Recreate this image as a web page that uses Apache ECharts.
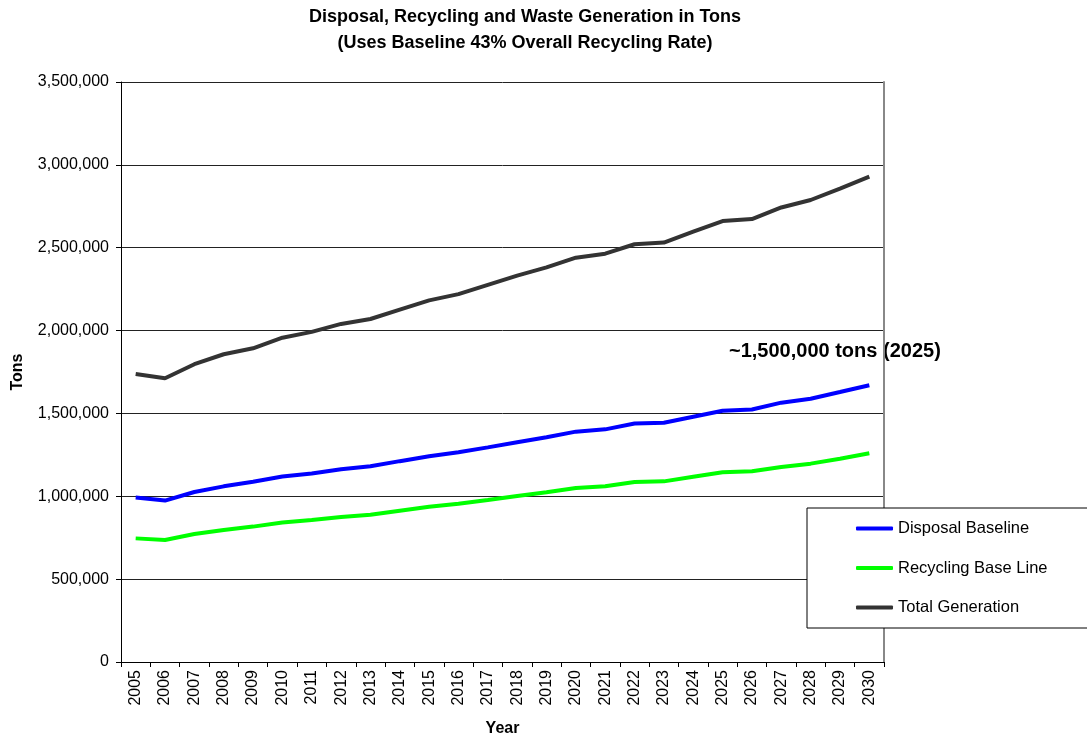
<!DOCTYPE html>
<html>
<head>
<meta charset="utf-8">
<script src="https://cdn.jsdelivr.net/npm/echarts@6/dist/echarts.min.js"></script>
<style>html,body{margin:0;padding:0;background:#fff;}#c{width:1087px;height:738px;}</style>
</head>
<body>
<div id="c"></div>
<script>
var years = ['2005','2006','2007','2008','2009','2010','2011','2012','2013','2014','2015','2016','2017','2018','2019','2020','2021','2022','2023','2024','2025','2026','2027','2028','2029','2030'];
var disposal = [992000,974000,1026000,1060000,1088000,1119000,1137000,1163000,1181000,1212000,1242000,1266000,1295000,1326000,1356000,1390000,1404000,1439000,1444000,1480000,1516000,1524000,1565000,1589000,1629000,1670000];
var recycling = [746000,736000,772000,797000,817000,842000,857000,875000,889000,913000,937000,955000,978000,1002000,1024000,1050000,1060000,1086000,1090000,1118000,1145000,1151000,1177000,1197000,1227000,1260000];
var total = [1738000,1712000,1797000,1857000,1893000,1957000,1992000,2040000,2070000,2126000,2182000,2220000,2276000,2332000,2381000,2440000,2464000,2521000,2531000,2597000,2661000,2673000,2743000,2788000,2857000,2929000];
var seriesNames = ['Disposal Baseline','Recycling Base Line','Total Generation'];
var titleLines = ['Disposal, Recycling and Waste Generation in Tons','(Uses Baseline 43% Overall Recycling Rate)'];
var annotation = '~1,500,000 tons (2025)';

var FONT = 'Liberation Sans, Arial, sans-serif';
var chart = echarts.init(document.getElementById('c'));
function fmt(v){ return String(v).replace(/\B(?=(\d{3})+(?!\d))/g, ','); }
chart.setOption({
  animation: false,
  backgroundColor: '#fff',
  title: {
    text: titleLines.join('\n'),
    left: 525, top: 4, textAlign: 'center', padding: 0,
    textStyle: {fontFamily: FONT, fontSize: 18, fontWeight: 'bold', color: '#000', lineHeight: 26}
  },
  grid: {left: 121, top: 82, width: 763, height: 580, show: false, containLabel: false, outerBoundsMode: 'none'},
  xAxis: {
    type: 'category', data: years, boundaryGap: true,
    name: 'Year', nameLocation: 'middle', nameGap: 59,
    nameTextStyle: {fontFamily: FONT, fontSize: 16, fontWeight: 'bold', color: '#000'},
    axisLine: {lineStyle: {color: '#000', width: 1}},
    axisTick: {show: true, length: 5, lineStyle: {color: '#000'}},
    axisLabel: {rotate: 90, fontFamily: FONT, fontSize: 16, color: '#000', margin: 8, interval: 0},
    splitLine: {show: false}
  },
  yAxis: [{
    type: 'value', min: 0, max: 3500000, interval: 500000,
    name: 'Tons', nameLocation: 'middle', nameGap: 95, nameRotate: 90,
    nameTextStyle: {fontFamily: FONT, fontSize: 16, fontWeight: 'bold', color: '#000'},
    axisLine: {show: true, lineStyle: {color: '#000', width: 1}},
    axisTick: {show: true, length: 5, lineStyle: {color: '#000'}},
    axisLabel: {fontFamily: FONT, fontSize: 16, color: '#000', margin: 12, formatter: fmt},
    splitLine: {show: true, lineStyle: {color: '#222', width: 1}}
  },{
    type: 'value', min: 0, max: 3500000, interval: 500000, position: 'right',
    axisLine: {show: true, lineStyle: {color: '#888', width: 2}},
    axisTick: {show: false}, axisLabel: {show: false}, splitLine: {show: false}
  }],
  legend: {
    orient: 'vertical', left: 807, top: 508,
    data: seriesNames,
    backgroundColor: '#fff', borderColor: '#000', borderWidth: 1,
    padding: [12, 70, 12, 49],
    itemGap: 22.5, itemWidth: 37, itemHeight: 4, itemTextGap: 4,
    icon: 'roundRect',
    textStyle: {fontFamily: FONT, fontSize: 16.5, color: '#000'}
  },
  graphic: [{
    type: 'text', left: 729, top: 341,
    style: {text: annotation, font: 'bold 20px ' + FONT, fill: '#000'}
  }],
  series: [
    {name: seriesNames[0], type: 'line', data: disposal, symbol: 'none', lineStyle: {color: '#0000ff', width: 4}, itemStyle: {color: '#0000ff'}, z: 3},
    {name: seriesNames[1], type: 'line', data: recycling, symbol: 'none', lineStyle: {color: '#00ff00', width: 4}, itemStyle: {color: '#00ff00'}, z: 3},
    {name: seriesNames[2], type: 'line', data: total, symbol: 'none', lineStyle: {color: '#333333', width: 4}, itemStyle: {color: '#333333'}, z: 3}
  ]
});
</script>
</body>
</html>
